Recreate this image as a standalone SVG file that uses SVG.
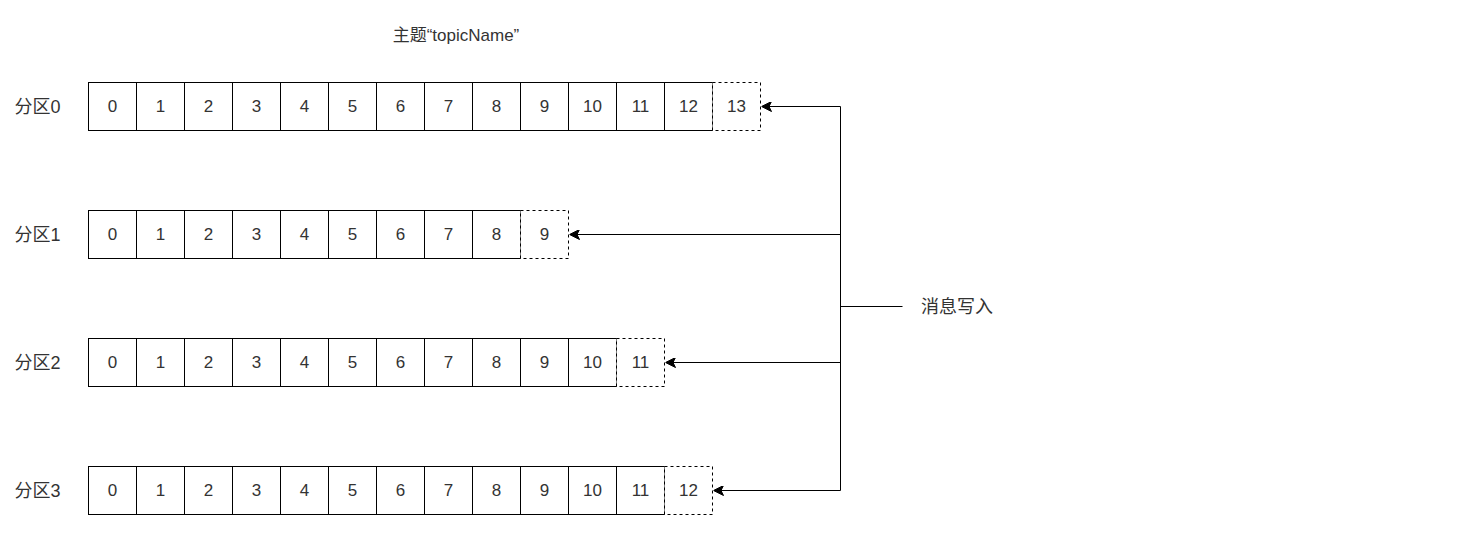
<svg xmlns="http://www.w3.org/2000/svg" width="1476" height="536" viewBox="0 0 1476 536">
<style>
.c{fill:#fff;stroke:#000;stroke-width:1}
.d{fill:#fff;stroke:#000;stroke-width:1;stroke-dasharray:3 3}
.t{font-family:"Liberation Sans","Noto Sans CJK SC",sans-serif;font-size:17px;fill:#333;text-anchor:middle;dominant-baseline:central}
.l{font-family:"Liberation Sans","Noto Sans CJK SC",sans-serif;font-size:18px;fill:#333;dominant-baseline:central}
.h{font-family:"Liberation Sans","Noto Sans CJK SC",sans-serif;font-size:17px;fill:#333;text-anchor:middle;dominant-baseline:central}
.e{fill:none;stroke:#000;stroke-width:1}
</style>
<defs>
<marker id="ah" viewBox="0 0 10 10" refX="10" refY="5" markerWidth="10" markerHeight="10" markerUnits="userSpaceOnUse" orient="auto">
<path d="M10,5 L0,0 L2.5,5 L0,10 Z" fill="#000" stroke="#000" stroke-width="1"/>
</marker>
</defs>
<rect width="1476" height="536" fill="#fff"/>
<text class="h" x="456" y="35">主题“topicName”</text>
<g id="partition0" transform="translate(0.5,0.5)">
<text class="l" x="14" y="106">分区0</text>
<rect class="c" x="88" y="82" width="48" height="48"/><text class="t" x="112" y="106">0</text>
<rect class="c" x="136" y="82" width="48" height="48"/><text class="t" x="160" y="106">1</text>
<rect class="c" x="184" y="82" width="48" height="48"/><text class="t" x="208" y="106">2</text>
<rect class="c" x="232" y="82" width="48" height="48"/><text class="t" x="256" y="106">3</text>
<rect class="c" x="280" y="82" width="48" height="48"/><text class="t" x="304" y="106">4</text>
<rect class="c" x="328" y="82" width="48" height="48"/><text class="t" x="352" y="106">5</text>
<rect class="c" x="376" y="82" width="48" height="48"/><text class="t" x="400" y="106">6</text>
<rect class="c" x="424" y="82" width="48" height="48"/><text class="t" x="448" y="106">7</text>
<rect class="c" x="472" y="82" width="48" height="48"/><text class="t" x="496" y="106">8</text>
<rect class="c" x="520" y="82" width="48" height="48"/><text class="t" x="544" y="106">9</text>
<rect class="c" x="568" y="82" width="48" height="48"/><text class="t" x="592" y="106">10</text>
<rect class="c" x="616" y="82" width="48" height="48"/><text class="t" x="640" y="106">11</text>
<rect class="c" x="664" y="82" width="48" height="48"/><text class="t" x="688" y="106">12</text>
<rect class="d" x="712" y="82" width="48" height="48"/><text class="t" x="736" y="106">13</text>
</g>
<g id="partition1" transform="translate(0.5,0.5)">
<text class="l" x="14" y="234">分区1</text>
<rect class="c" x="88" y="210" width="48" height="48"/><text class="t" x="112" y="234">0</text>
<rect class="c" x="136" y="210" width="48" height="48"/><text class="t" x="160" y="234">1</text>
<rect class="c" x="184" y="210" width="48" height="48"/><text class="t" x="208" y="234">2</text>
<rect class="c" x="232" y="210" width="48" height="48"/><text class="t" x="256" y="234">3</text>
<rect class="c" x="280" y="210" width="48" height="48"/><text class="t" x="304" y="234">4</text>
<rect class="c" x="328" y="210" width="48" height="48"/><text class="t" x="352" y="234">5</text>
<rect class="c" x="376" y="210" width="48" height="48"/><text class="t" x="400" y="234">6</text>
<rect class="c" x="424" y="210" width="48" height="48"/><text class="t" x="448" y="234">7</text>
<rect class="c" x="472" y="210" width="48" height="48"/><text class="t" x="496" y="234">8</text>
<rect class="d" x="520" y="210" width="48" height="48"/><text class="t" x="544" y="234">9</text>
</g>
<g id="partition2" transform="translate(0.5,0.5)">
<text class="l" x="14" y="362">分区2</text>
<rect class="c" x="88" y="338" width="48" height="48"/><text class="t" x="112" y="362">0</text>
<rect class="c" x="136" y="338" width="48" height="48"/><text class="t" x="160" y="362">1</text>
<rect class="c" x="184" y="338" width="48" height="48"/><text class="t" x="208" y="362">2</text>
<rect class="c" x="232" y="338" width="48" height="48"/><text class="t" x="256" y="362">3</text>
<rect class="c" x="280" y="338" width="48" height="48"/><text class="t" x="304" y="362">4</text>
<rect class="c" x="328" y="338" width="48" height="48"/><text class="t" x="352" y="362">5</text>
<rect class="c" x="376" y="338" width="48" height="48"/><text class="t" x="400" y="362">6</text>
<rect class="c" x="424" y="338" width="48" height="48"/><text class="t" x="448" y="362">7</text>
<rect class="c" x="472" y="338" width="48" height="48"/><text class="t" x="496" y="362">8</text>
<rect class="c" x="520" y="338" width="48" height="48"/><text class="t" x="544" y="362">9</text>
<rect class="c" x="568" y="338" width="48" height="48"/><text class="t" x="592" y="362">10</text>
<rect class="d" x="616" y="338" width="48" height="48"/><text class="t" x="640" y="362">11</text>
</g>
<g id="partition3" transform="translate(0.5,0.5)">
<text class="l" x="14" y="490">分区3</text>
<rect class="c" x="88" y="466" width="48" height="48"/><text class="t" x="112" y="490">0</text>
<rect class="c" x="136" y="466" width="48" height="48"/><text class="t" x="160" y="490">1</text>
<rect class="c" x="184" y="466" width="48" height="48"/><text class="t" x="208" y="490">2</text>
<rect class="c" x="232" y="466" width="48" height="48"/><text class="t" x="256" y="490">3</text>
<rect class="c" x="280" y="466" width="48" height="48"/><text class="t" x="304" y="490">4</text>
<rect class="c" x="328" y="466" width="48" height="48"/><text class="t" x="352" y="490">5</text>
<rect class="c" x="376" y="466" width="48" height="48"/><text class="t" x="400" y="490">6</text>
<rect class="c" x="424" y="466" width="48" height="48"/><text class="t" x="448" y="490">7</text>
<rect class="c" x="472" y="466" width="48" height="48"/><text class="t" x="496" y="490">8</text>
<rect class="c" x="520" y="466" width="48" height="48"/><text class="t" x="544" y="490">9</text>
<rect class="c" x="568" y="466" width="48" height="48"/><text class="t" x="592" y="490">10</text>
<rect class="c" x="616" y="466" width="48" height="48"/><text class="t" x="640" y="490">11</text>
<rect class="d" x="664" y="466" width="48" height="48"/><text class="t" x="688" y="490">12</text>
</g>
<g id="writer">
<text class="l" x="921" y="307">消息写入</text>
</g>
<g id="connectors" transform="translate(0.5,0.5)">
<path class="e" d="M902,306 L840,306"/>
<path class="e" d="M840,106 L840,490"/>
<path class="e" d="M840,106 L761,106" marker-end="url(#ah)"/>
<path class="e" d="M840,234 L569,234" marker-end="url(#ah)"/>
<path class="e" d="M840,362 L665,362" marker-end="url(#ah)"/>
<path class="e" d="M840,490 L713,490" marker-end="url(#ah)"/>
</g>
</svg>
